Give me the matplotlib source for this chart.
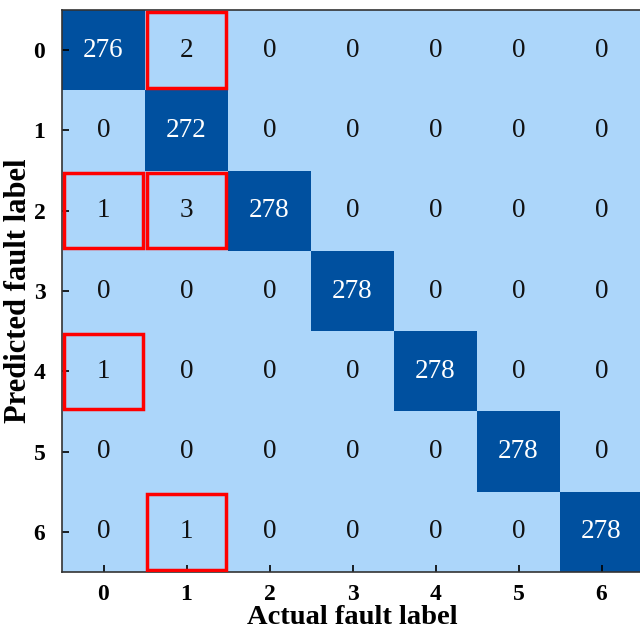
import numpy as np
import matplotlib.pyplot as plt
from matplotlib.colors import ListedColormap
from matplotlib.patches import Rectangle

labels = ["0", "1", "2", "3", "4", "5", "6"]
# rows = predicted, cols = actual
counts = np.array([
    [276, 2, 0, 0, 0, 0, 0],
    [0, 272, 0, 0, 0, 0, 0],
    [1, 3, 278, 0, 0, 0, 0],
    [0, 0, 0, 278, 0, 0, 0],
    [1, 0, 0, 0, 278, 0, 0],
    [0, 0, 0, 0, 0, 278, 0],
    [0, 1, 0, 0, 0, 0, 278],
])
# (row, col) cells marked with red boxes
marked = [(0, 1), (2, 0), (2, 1), (4, 0), (6, 1)]

plt.rcParams["font.family"] = ["Liberation Serif", "DejaVu Serif"]

fig = plt.figure(figsize=(6.4, 6.31), dpi=100)
ax = fig.add_axes([62 / 640, 59 / 631, 581 / 640, 562 / 631])

cmap = ListedColormap(["#acd6fa", "#00509f"])
diag = (np.eye(len(labels)) > 0).astype(int)
ax.pcolormesh(np.arange(len(labels) + 1) - 0.5, np.arange(len(labels) + 1) - 0.5,
              diag, cmap=cmap, vmin=0, vmax=1)
ax.set_xlim(-0.5, len(labels) - 0.5)
ax.set_ylim(len(labels) - 0.5, -0.5)

for i in range(len(labels)):
    for j in range(len(labels)):
        c = "white" if i == j else "#111111"
        ax.text(j, i, str(counts[i, j]), ha="center", va="center",
                fontsize=19.5, color=c)

for (r, c) in marked:
    ax.add_patch(Rectangle((c - 0.48, r - 0.47), 0.96, 0.94, fill=False,
                           edgecolor="#ff0000", linewidth=2.5, zorder=5))

ax.set_xticks(range(len(labels)))
ax.set_yticks(range(len(labels)))
ax.set_xticklabels(labels, fontweight="bold", fontsize=17)
ax.set_yticklabels(labels, fontweight="bold", fontsize=17)
ax.tick_params(direction="in", length=5, width=1.2, pad=12)
ax.tick_params(axis="x", pad=9)
for s in ax.spines.values():
    s.set_linewidth(1.2)
    s.set_color("#333333")

ax.set_xlabel("Actual fault label", fontweight="bold", fontsize=20.5, labelpad=0)
ax.set_ylabel("Predicted fault label", fontweight="bold", fontsize=22, labelpad=0)

fig.savefig("out.png", dpi=100)
